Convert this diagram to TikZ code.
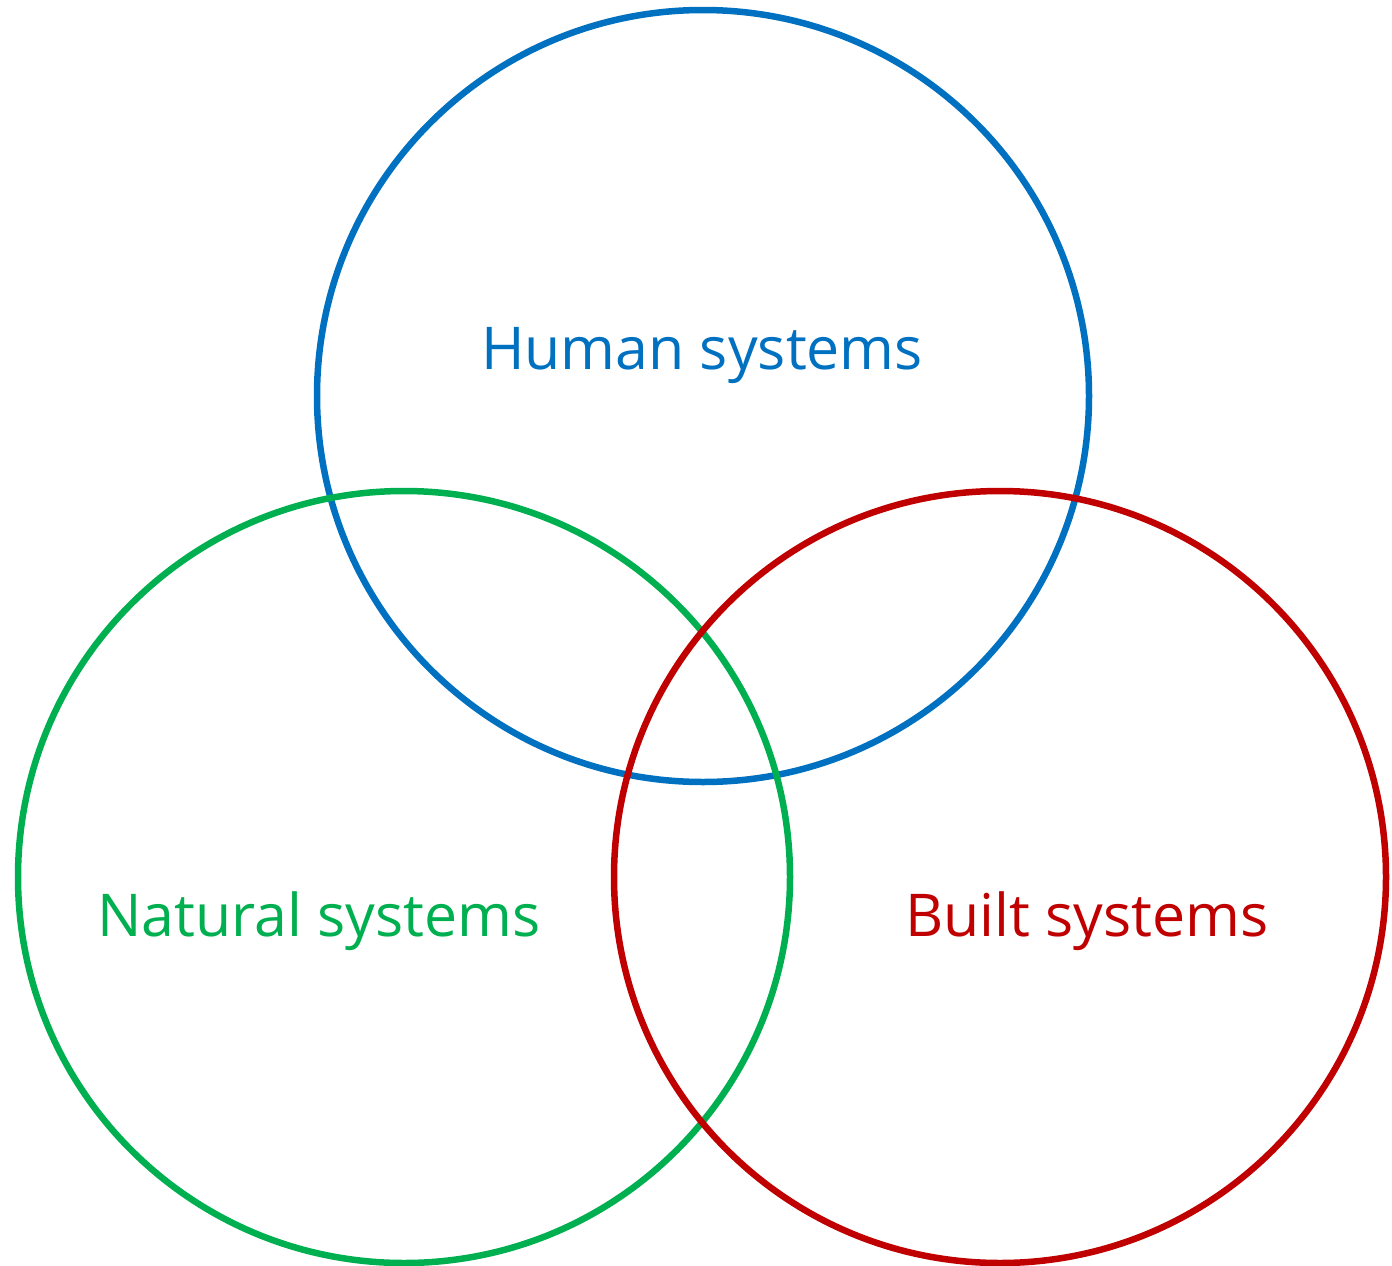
\documentclass[tikz,border=0pt]{standalone}
\usepackage{fontspec}
\setmainfont{Open Sans}
\definecolor{hblue}{HTML}{0070C0}
\definecolor{ngreen}{HTML}{00B050}
\definecolor{bred}{HTML}{C00000}
\begin{document}
\begin{tikzpicture}[x=1pt,y=-1pt,
  ring/.style={draw=#1,line width=6.5pt,circle,minimum size=772pt,inner sep=0pt},
  lab/.style={text=#1,font=\fontsize{59}{64}\selectfont,inner sep=0pt,anchor=base}]
\useasboundingbox (0,0) rectangle (1392,1266);
\node[ring=hblue] (human) at (703,396) {};
\node[ring=ngreen] (natural) at (404,877) {};
\node[ring=bred] (built) at (1000,877) {};
\node[lab=hblue] (thuman) at (702,369) {Human systems};
\node[lab=ngreen] (tnatural) at (319,936) {Natural systems};
\node[lab=bred] (tbuilt) at (1087,936) {Built systems};
\end{tikzpicture}
\end{document}
